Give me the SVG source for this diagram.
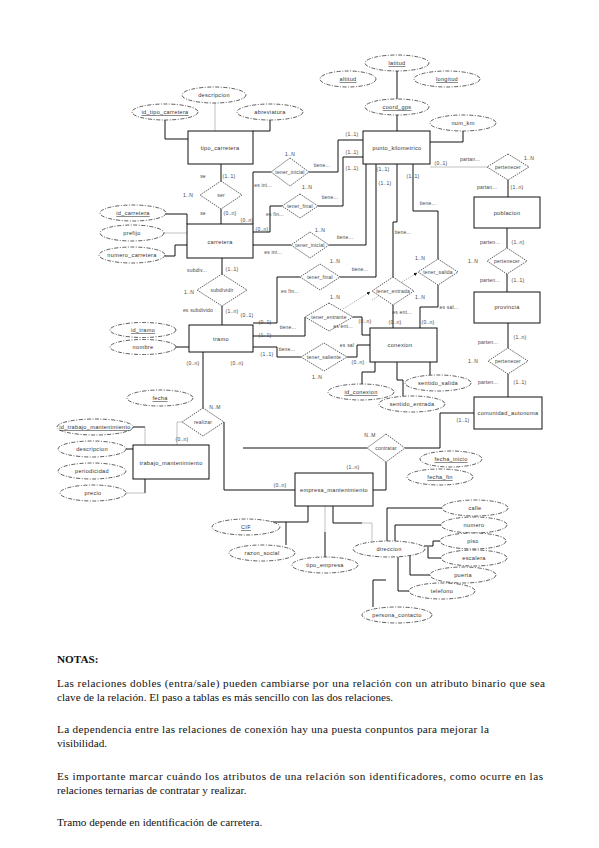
<svg xmlns="http://www.w3.org/2000/svg" width="599" height="848" viewBox="0 0 599 848">
<defs>
<style>
.c{fill:none;stroke:#111;stroke-width:1}
.f{fill:none;stroke:#999;stroke-width:0.6}
.e{fill:#fff;stroke:#333;stroke-width:0.8;stroke-dasharray:4 1.5 1 1.5}
.r{fill:#fff;stroke:#111;stroke-width:1}
.d{fill:#fff;stroke:#333;stroke-width:0.8;stroke-dasharray:1.5 1}
.t{font-family:"Liberation Sans",Arial,sans-serif;font-size:5.6px;fill:#333;text-anchor:middle;dominant-baseline:central;letter-spacing:0.3px}
.l{font-family:"Liberation Sans",Arial,sans-serif;font-size:5px;fill:#444;text-anchor:middle;dominant-baseline:central;letter-spacing:0.2px}
.u{text-decoration:underline}
.n{font-family:"Liberation Serif","Times New Roman",serif;font-size:11.2px;fill:#111}
.dot{fill:none;stroke:#777;stroke-width:0.7;stroke-dasharray:1 1.2}
</style>
<marker id="ar" viewBox="0 0 6 6" refX="5.5" refY="3" markerWidth="5" markerHeight="5" orient="auto"><path d="M0,0 L6,3 L0,6 z" fill="#222"/></marker>
</defs>
<rect width="599" height="848" fill="#fff"/>
<g id="connectors">
<path class="c" d="M165,120 V139 H188"/>
<path class="f" d="M215,103 V131"/>
<path class="c" d="M253,131 H270 V120"/>
<path class="c" d="M397,71 V99"/>
<path class="c" d="M397,115 V131"/>
<path class="c" d="M463,131 V142 H430"/>
<path class="c" d="M221,164 V181 M221,209 V224"/>
<path class="c" d="M271,172 H253 V224 M309,172 H338 V140 H363"/>
<path class="c" d="M282,206 H270 V232 H253 M318,206 H343 V157 H363"/>
<path class="c" d="M291,245 H253 M329,245 H366 V164"/>
<path class="c" d="M300,277 H277 V323 H253 M340,277 H376 V164"/>
<path class="c" d="M305,317 V336 H253 M353,317 H362 V335 H370"/>
<path class="c" d="M301,357 H277 V347 H253 M347,357 H357 V345 H370"/>
<path class="c" d="M393,277 V222 H397 V164 M393,305 V328"/>
<path class="c" d="M438,259 V211 H413 V164 M438,285 V307 H420 V328"/>
<path class="dot" d="M343,309 L370,292" marker-end="url(#ar)"/>
<path class="dot" d="M372,300 L417,273" marker-end="url(#ar)"/>
<path class="c" d="M222,258 V274 M222,306 V325"/>
<path class="c" d="M176,347 H189"/>
<path class="c" d="M166,214 H187 V224"/>
<path class="f" d="M164,233 H187"/>
<path class="c" d="M165,256 H175 V245 H187"/>
<path class="c" d="M203,352 V408 M224,422 V490 H295"/>
<path class="f" d="M182,422 H177 V445"/>
<path class="c" d="M133,427 H145"/>
<path class="f" d="M145,427 V445"/>
<path class="c" d="M126,449 H133"/>
<path class="c" d="M145,479 V493"/>
<path class="f" d="M126,493 H145"/>
<path class="c" d="M367,448 H243 M405,448 H440 V413 H474 M386,462 V490 H373"/>
<path class="c" d="M362,384 V372 H375 V362 M397,362 V380 H403 V396 M430,362 V375"/>
<path class="f" d="M430,167 H487"/>
<path class="c" d="M508,180 V197 M507,228 V248 M507,274 V292 M508,323 V348 M508,374 V397"/>
<path class="c" d="M270,522 H308 V506"/>
<path class="c" d="M286,545 V522"/>
<path class="c" d="M325,532 V557"/>
<path class="f" d="M325,506 V532"/>
<path class="c" d="M333,506 V523 H362"/>
<path class="f" d="M362,523 H372 V541"/>
<path class="c" d="M386,580 H373 V607"/>
<path class="c" d="M442,508 H387 V541 M441,525 H395 V541 M424,546 H433 V541 H440 M428,547 V558 H441 M410,553 V575 H430 M398,556 V591 H409"/>
</g>
<g id="attributes">
<g id="a-latitud"><ellipse class="e" cx="397" cy="63" rx="32" ry="8"/><text class="t u" x="397" y="63">latitud</text></g>
<g id="a-altitud"><ellipse class="e" cx="348" cy="79" rx="28" ry="8"/><text class="t u" x="348" y="79">altitud</text></g>
<g id="a-longitud"><ellipse class="e" cx="447" cy="79" rx="33" ry="8"/><text class="t u" x="447" y="79">longitud</text></g>
<g id="a-coord_gps"><ellipse class="e" cx="397" cy="107" rx="32" ry="8"/><text class="t u" x="397" y="107">coord_gps</text></g>
<g id="a-num_km"><ellipse class="e" cx="463" cy="123" rx="33" ry="8"/><text class="t" x="463" y="123">num_km</text></g>
<g id="a-descripcion1"><ellipse class="e" cx="214" cy="95" rx="32" ry="8"/><text class="t" x="214" y="95">descripcion</text></g>
<g id="a-id_tipo_carretera"><ellipse class="e" cx="165" cy="112" rx="33" ry="8"/><text class="t u" x="165" y="112">id_tipo_carretera</text></g>
<g id="a-abreviatura"><ellipse class="e" cx="270" cy="112" rx="33" ry="8"/><text class="t" x="270" y="112">abreviatura</text></g>
<g id="a-id_carretera"><ellipse class="e" cx="133" cy="213" rx="33" ry="8"/><text class="t u" x="133" y="213">id_carretera</text></g>
<g id="a-prefijo"><ellipse class="e" cx="132" cy="233" rx="32" ry="8"/><text class="t" x="132" y="233">prefijo</text></g>
<g id="a-numero_carretera"><ellipse class="e" cx="132" cy="255" rx="33" ry="8"/><text class="t" x="132" y="255">numero_carretera</text></g>
<g id="a-id_tramo"><ellipse class="e" cx="143" cy="330" rx="33" ry="7.5"/><text class="t u" x="143" y="330">id_tramo</text></g>
<g id="a-nombre"><ellipse class="e" cx="143" cy="347" rx="33" ry="7.5"/><text class="t" x="143" y="347">nombre</text></g>
<g id="a-fecha"><ellipse class="e" cx="160" cy="398" rx="33" ry="8"/><text class="t u" x="160" y="398">fecha</text></g>
<g id="a-id_trabajo_mantenimiento"><ellipse class="e" cx="95" cy="427" rx="38" ry="8"/><text class="t u" x="95" y="427">id_trabajo_mantenimiento</text></g>
<g id="a-descripcion2"><ellipse class="e" cx="92" cy="449" rx="34" ry="8"/><text class="t" x="92" y="449">descripcion</text></g>
<g id="a-periodicidad"><ellipse class="e" cx="92" cy="471" rx="34" ry="8"/><text class="t" x="92" y="471">periodicidad</text></g>
<g id="a-precio"><ellipse class="e" cx="93" cy="493" rx="33" ry="8"/><text class="t" x="93" y="493">precio</text></g>
<g id="a-id_conexion"><ellipse class="e" cx="361" cy="392" rx="33" ry="8"/><text class="t u" x="361" y="392">id_conexion</text></g>
<g id="a-sentido_salida"><ellipse class="e" cx="438" cy="383" rx="33" ry="8"/><text class="t" x="438" y="383">sentido_salida</text></g>
<g id="a-sentido_entrada"><ellipse class="e" cx="412" cy="404" rx="33" ry="8"/><text class="t" x="412" y="404">sentido_entrada</text></g>
<g id="a-fecha_inicio"><ellipse class="e" cx="451" cy="459" rx="31" ry="8"/><text class="t u" x="451" y="459">fecha_inicio</text></g>
<g id="a-fecha_fin"><ellipse class="e" cx="440" cy="477" rx="33" ry="8"/><text class="t u" x="440" y="477">fecha_fin</text></g>
<g id="a-CIF"><ellipse class="e" cx="246" cy="527" rx="34" ry="8"/><text class="t u" x="246" y="527">CIF</text></g>
<g id="a-razon_social"><ellipse class="e" cx="262" cy="553" rx="33" ry="8"/><text class="t" x="262" y="553">razon_social</text></g>
<g id="a-tipo_empresa"><ellipse class="e" cx="325" cy="565" rx="33" ry="8"/><text class="t" x="325" y="565">tipo_empresa</text></g>
<g id="a-direccion"><ellipse class="e" cx="389" cy="549" rx="36" ry="8"/><text class="t" x="389" y="549">direccion</text></g>
<g id="a-calle"><ellipse class="e" cx="475" cy="508" rx="33" ry="8"/><text class="t" x="475" y="508">calle</text></g>
<g id="a-numero"><ellipse class="e" cx="474" cy="525" rx="33" ry="8"/><text class="t" x="474" y="525">numero</text></g>
<g id="a-piso"><ellipse class="e" cx="473" cy="541" rx="33" ry="8"/><text class="t" x="473" y="541">piso</text></g>
<g id="a-escalera"><ellipse class="e" cx="474" cy="558" rx="33" ry="8"/><text class="t" x="474" y="558">escalera</text></g>
<g id="a-puerta"><ellipse class="e" cx="463" cy="575" rx="33" ry="8"/><text class="t" x="463" y="575">puerta</text></g>
<g id="a-telefono"><ellipse class="e" cx="442" cy="591" rx="33" ry="8"/><text class="t" x="442" y="591">telefono</text></g>
<g id="a-persona_contacto"><ellipse class="e" cx="397" cy="615" rx="35" ry="8"/><text class="t" x="397" y="615">persona_contacto</text></g>
</g>
<g id="entities">
<g id="tipo_carretera"><rect class="r" x="188" y="131" width="65" height="33"/><text class="t" x="220" y="148">tipo_carretera</text></g>
<g id="punto_kilometrico"><rect class="r" x="363" y="131" width="67" height="33"/><text class="t" x="397" y="148">punto_kilometrico</text></g>
<g id="carretera"><rect class="r" x="187" y="224" width="66" height="34"/><text class="t" x="220" y="242">carretera</text></g>
<g id="tramo"><rect class="r" x="189" y="325" width="64" height="27"/><text class="t" x="221" y="339">tramo</text></g>
<g id="conexion"><rect class="r" x="370" y="328" width="67" height="34"/><text class="t" x="400" y="345">conexion</text></g>
<g id="trabajo_mantenimiento"><rect class="r" x="133" y="445" width="76" height="34"/><text class="t" x="171" y="463">trabajo_mantenimiento</text></g>
<g id="empresa_mantenimiento"><rect class="r" x="295" y="473" width="78" height="33"/><text class="t" x="334" y="490">empresa_mantenimiento</text></g>
<g id="poblacion"><rect class="r" x="474" y="197" width="66" height="31"/><text class="t" x="507" y="213">poblacion</text></g>
<g id="provincia"><rect class="r" x="474" y="292" width="66" height="31"/><text class="t" x="507" y="307">provincia</text></g>
<g id="comunidad_autonoma"><rect class="r" x="474" y="397" width="68" height="32"/><text class="t" x="508" y="413">comunidad_autonoma</text></g>
</g>
<g id="relations">
<g id="r-ser"><polygon class="d" points="221,181 242,195 221,209 200,195"/><text class="l" x="221" y="195">ser</text></g>
<g id="r-tener_inicial1"><polygon class="d" points="290,158 309,172 290,186 271,172"/><text class="l" x="290" y="172">tener_inicial</text></g>
<g id="r-tener_final1"><polygon class="d" points="300,194 318,206 300,218 282,206"/><text class="l" x="300" y="206">tener_final</text></g>
<g id="r-tener_inicial2"><polygon class="d" points="310,232 329,245 310,258 291,245"/><text class="l" x="310" y="245">tener_inicial</text></g>
<g id="r-tener_final2"><polygon class="d" points="320,264 340,277 320,290 300,277"/><text class="l" x="320" y="277">tener_final</text></g>
<g id="r-tener_entrante"><polygon class="d" points="329,303 353,317 329,331 305,317"/><text class="l" x="329" y="317">tener_entrante</text></g>
<g id="r-tener_entrada"><polygon class="d" points="393,277 414,291 393,305 372,291"/><text class="l" x="393" y="291">tener_entrada</text></g>
<g id="r-tener_salida"><polygon class="d" points="438,259 458,272 438,285 418,272"/><text class="l" x="438" y="272">tener_salida</text></g>
<g id="r-tener_saliente"><polygon class="d" points="324,343 347,357 324,371 301,357"/><text class="l" x="324" y="357">tener_saliente</text></g>
<g id="r-subdividir"><polygon class="d" points="222,274 247,290 222,306 197,290"/><text class="l" x="222" y="290">subdividir</text></g>
<g id="r-realizar"><polygon class="d" points="203,408 224,422 203,436 182,422"/><text class="l" x="203" y="422">realizar</text></g>
<g id="r-contratar"><polygon class="d" points="386,434 405,448 386,462 367,448"/><text class="l" x="386" y="448">contratar</text></g>
<g id="r-pertenecer1"><polygon class="d" points="508,154 529,167 508,180 487,167"/><text class="l" x="508" y="167">pertenecer</text></g>
<g id="r-pertenecer2"><polygon class="d" points="507,248 527,261 507,274 487,261"/><text class="l" x="507" y="261">pertenecer</text></g>
<g id="r-pertenecer3"><polygon class="d" points="508,348 528,361 508,374 488,361"/><text class="l" x="508" y="361">pertenecer</text></g>
</g>
<g id="labels">
<text class="l" x="203" y="176">se</text><text class="l" x="229" y="176">(1..1)</text><text class="l" x="188" y="195">1..N</text><text class="l" x="203" y="213">se</text><text class="l" x="230" y="213">(0..n)</text><text class="l" x="247" y="220">(0..n)</text><text class="l" x="262" y="229">(0..n)</text>
<text class="l" x="290" y="154">1..N</text><text class="l" x="322" y="165">tiene...</text><text class="l" x="263" y="185">es ini...</text>
<text class="l" x="307" y="187">1..N</text><text class="l" x="330" y="197">tiene...</text><text class="l" x="275" y="214">es fin...</text>
<text class="l" x="320" y="230">1..N</text><text class="l" x="345" y="237">tiene...</text><text class="l" x="273" y="252">es ini...</text>
<text class="l" x="335" y="261">1..N</text><text class="l" x="360" y="269">tiene...</text><text class="l" x="290" y="291">es fin...</text>
<text class="l" x="335" y="297">1..N</text><text class="l" x="288" y="327">tiene...</text><text class="l" x="343" y="326">es ent...</text><text class="l" x="365" y="321">(0..n)</text>
<text class="l" x="352" y="134">(1..1)</text><text class="l" x="352" y="152">(1..1)</text><text class="l" x="352" y="168">(1..1)</text><text class="l" x="383" y="169">(1..1)</text><text class="l" x="413" y="176">(1..1)</text><text class="l" x="385" y="183">(1..1)</text><text class="l" x="441" y="163">(0..1)</text>
<text class="l" x="470" y="159">partan...</text><text class="l" x="529" y="158">1..N</text><text class="l" x="487" y="187">partan...</text><text class="l" x="517" y="187">(1..n)</text>
<text class="l" x="428" y="203">tiene...</text><text class="l" x="403" y="232">tiene...</text>
<text class="l" x="420" y="258">1..N</text><text class="l" x="420" y="297">1..N</text><text class="l" x="402" y="312">es ent...</text><text class="l" x="449" y="307">es sal...</text><text class="l" x="395" y="322">(0..n)</text><text class="l" x="428" y="322">(0..n)</text>
<text class="l" x="490" y="242">parten...</text><text class="l" x="518" y="242">(1..n)</text><text class="l" x="473" y="261">1..N</text><text class="l" x="490" y="280">parten...</text><text class="l" x="518" y="280">(1..1)</text>
<text class="l" x="488" y="342">parten...</text><text class="l" x="520" y="337">(1..n)</text><text class="l" x="473" y="361">1..N</text><text class="l" x="488" y="382">parten...</text><text class="l" x="520" y="382">(1..1)</text>
<text class="l" x="197" y="270">subdiv...</text><text class="l" x="232" y="269">(1..1)</text><text class="l" x="189" y="292">1..N</text><text class="l" x="198" y="310">es subdivido</text><text class="l" x="232" y="311">(1..n)</text>
<text class="l" x="247" y="315">(0..1)</text><text class="l" x="265" y="322">(0..1)</text><text class="l" x="265" y="335">(1..1)</text><text class="l" x="267" y="354">(1..1)</text>
<text class="l" x="287" y="349">tiene...</text><text class="l" x="347" y="345">es sal</text><text class="l" x="358" y="362">(0..n)</text><text class="l" x="317" y="377">1..N</text>
<text class="l" x="193" y="363">(0..n)</text><text class="l" x="237" y="363">(0..n)</text><text class="l" x="215" y="407">N..M</text><text class="l" x="182" y="439">(0..n)</text>
<text class="l" x="370" y="435">N..M</text><text class="l" x="353" y="467">(1..n)</text><text class="l" x="463" y="420">(1..1)</text>
<text class="l" x="280" y="485">(0..n)</text>
</g>
<g id="notes">
<text class="n" x="57" y="663" font-weight="bold">NOTAS:</text>
<text class="n" x="57" y="687" textLength="488" lengthAdjust="spacing">Las relaciones dobles (entra/sale) pueden cambiarse por una relación con un atributo binario que sea</text>
<text class="n" x="57" y="701">clave de la relación. El paso a tablas es más sencillo con las dos relaciones.</text>
<text class="n" x="57" y="733" textLength="432" lengthAdjust="spacing">La dependencia entre las relaciones de conexión hay una puesta conpuntos para mejorar la</text>
<text class="n" x="57" y="747">visibilidad.</text>
<text class="n" x="57" y="780" textLength="486" lengthAdjust="spacing">Es importante marcar cuándo los atributos de una relación son identificadores, como ocurre en las</text>
<text class="n" x="57" y="794">relaciones ternarias de contratar y realizar.</text>
<text class="n" x="57" y="826">Tramo depende en identificación de carretera.</text>
</g>
</svg>
